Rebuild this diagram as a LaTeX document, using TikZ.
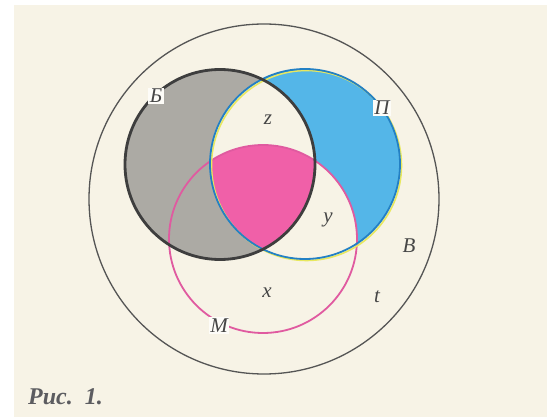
\documentclass[tikz,border=0pt]{standalone}
\usepackage{fontspec}
\setmainfont{Liberation Serif}
\definecolor{paper}{RGB}{247,243,230}
\definecolor{gapwhite}{RGB}{253,252,248}
\definecolor{grayfill}{RGB}{172,170,164}
\definecolor{bluefill}{RGB}{84,182,232}
\definecolor{pinkfill}{RGB}{240,96,168}
\definecolor{pinkline}{RGB}{224,90,160}
\definecolor{darkline}{RGB}{62,62,62}
\definecolor{blueline}{RGB}{35,128,196}
\definecolor{yellowline}{RGB}{232,232,95}
\definecolor{outerline}{RGB}{85,85,85}
\definecolor{ink}{RGB}{70,70,70}
\definecolor{capink}{RGB}{92,92,96}
\begin{document}
\begin{tikzpicture}[x=1pt,y=-1pt,
  lbl/.style={font=\fontsize{21}{21}\selectfont\itshape, text=ink, inner sep=0pt, anchor=base},
  gaplbl/.style={lbl, fill=gapwhite, inner sep=1.5pt},
  setB/.style={draw=darkline, line width=2.8pt},
  setP/.style={draw=blueline, line width=1.8pt},
  setPy/.style={draw=yellowline, line width=1.6pt},
  setM/.style={draw=pinkline, line width=1.8pt},
  setV/.style={draw=outerline, line width=1.3pt}]
\useasboundingbox (0,0) rectangle (547,417);
\fill[white] (0,0) rectangle (547,417);
\fill[paper] (14,5) rectangle (547,417);
\coordinate (cB) at (220,164.5);
\coordinate (cP) at (305,164);
\coordinate (cPy) at (306.5,165.5);
\coordinate (cM) at (263,239);
\coordinate (cO) at (264,199);
% fills
\fill[grayfill] (cB) circle[radius=95pt];
\fill[bluefill] (cP) circle[radius=95pt];
\begin{scope}
  \clip (cB) circle[radius=95pt];
  \fill[paper] (cP) circle[radius=95pt];
\end{scope}
\begin{scope}
  \clip (cP) circle[radius=95pt];
  \fill[paper] (cM) circle[radius=94pt];
  \clip (cB) circle[radius=95pt];
  \fill[pinkfill] (cM) circle[radius=94pt];
\end{scope}
% outlines
\draw[setV] (cO) circle[radius=175pt];
\draw[setM] (cM) circle[radius=94pt];
\draw[setPy] (cPy) circle[radius=95pt];
\draw[setP] (cP) circle[radius=95pt];
\draw[setB] (cB) circle[radius=95pt];
% labels
\node[gaplbl] (lB) at (156,103) {Б};
\node[gaplbl] (lP) at (382,115) {П};
\node[gaplbl] (lM) at (219,332) {М};
\node[lbl] (lz) at (268,125) {z};
\node[lbl] (ly) at (328,223) {y};
\node[lbl] (lx) at (267,298) {x};
\node[lbl] (lt) at (377,302) {t};
\node[lbl] (lV) at (409,253) {В};
\node[lbl, anchor=base west, text=capink, font=\fontsize{24}{24}\selectfont\bfseries\itshape] (cap) at (28,404) {Рис.\ \ 1.};
\end{tikzpicture}
\end{document}
